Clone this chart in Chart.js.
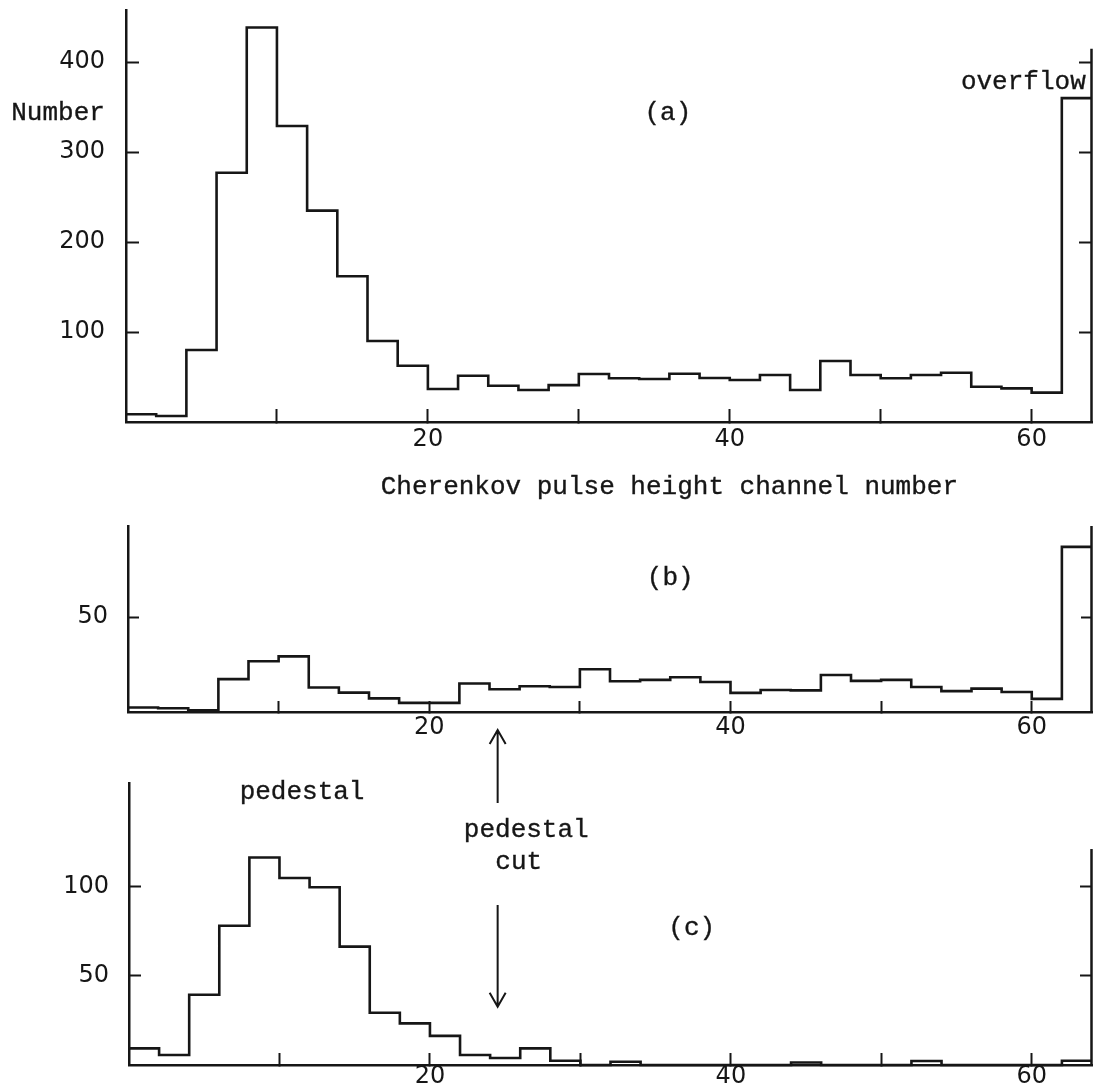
<!DOCTYPE html>
<html>
<head>
<meta charset="utf-8">
<script src="https://cdn.jsdelivr.net/npm/chart.js@4.4.1/dist/chart.umd.min.js"></script>
<style>
  html, body { margin: 0; padding: 0; background: #fff; }
  #wrap { position: relative; width: 1093px; height: 1091px; overflow: hidden; background: #fff; }
  canvas { position: absolute; left: 0; }
</style>
</head>
<body>
<div id="wrap">
  <canvas id="panelA" width="1093" height="505" style="top:0px"></canvas>
  <canvas id="panelB" width="1093" height="240" style="top:505px"></canvas>
  <canvas id="panelC" width="1093" height="391" style="top:700px"></canvas>
</div>
<script>
// Cherenkov pulse height spectra, 2-channel bins from 0 to 64 (last bin = overflow)
const binWidth = 2;

const countsA = [8.6, 6.7, 80, 277, 438.6, 329, 235, 162, 90, 62.6,
                 36.7, 51.4, 40.3, 35.6, 41, 53.3, 48.6, 47.8, 53.7, 48.9,
                 46.7, 52.2, 35.6, 67.8, 52.2, 48.6, 52.2, 54.8, 39.2, 37.4,
                 32.6, 360];
const countsB = [2.4, 2.0, 0.9, 17.3, 26.7, 29.3, 12.9, 10.2, 7.2, 4.8,
                 4.8, 15.0, 12.0, 13.6, 13.2, 22.5, 16.2, 16.9, 18.3, 15.8,
                 10.1, 11.6, 11.4, 19.5, 16.4, 16.9, 13.2, 11.0, 12.3, 10.5,
                 6.9, 87];
const countsC = [9.3, 5.6, 39.4, 78, 116.3, 104.8, 99.6, 66.3, 29.3, 23.3,
                 16.3, 5.6, 3.9, 9.3, 2.4, 0, 1.8, 0, 0, 0,
                 0, 0, 1.4, 0, 0, 0, 2.2, 0, 0, 0,
                 0, 2.4];

const xTicks = [10, 20, 30, 40, 50, 60];
const xTickLabels = ['', '20', '', '40', '', '60'];
const yTicksA = [100, 200, 300, 400];
const yTicksB = [50];
const yTicksC = [50, 100];

// text notes, placed in data units (channel, count)
const notesA = [
  { text: 'Number', x: -4.5, y: 343 },
  { text: '(a)', x: 35.9, y: 343 },
  { text: 'overflow', x: 59.45, y: 378 },
  { text: 'Cherenkov pulse height channel number', x: 36.0, y: -72 }
];
const notesB = [
  { text: '(b)', x: 36.0, y: 70.6 }
];
const notesC = [
  { text: 'pedestal', x: 11.5, y: 152.9 },
  { text: 'pedestal', x: 26.4, y: 131.7 },
  { text: 'cut', x: 25.9, y: 113.7 },
  { text: '(c)', x: 37.4, y: 76.8 }
];
const pedestalCut = 24.5;
const arrowsC = [
  { x: pedestalCut, from: 146.8, to: 187.7 },
  { x: pedestalCut, from: 89.6, to: 32.7 }
];

const ink = '#161616';
const monoFont = '26px "Liberation Mono", "DejaVu Sans Mono", monospace';
const numFont = { family: '"DejaVu Sans", sans-serif', size: 24 };

function stepPoints(counts) {
  const pts = counts.map((c, i) => ({ x: i * binWidth, y: c }));
  pts.push({ x: counts.length * binWidth, y: counts[counts.length - 1] });
  return pts;
}

function notesPlugin(notes, arrows, rightTop) {
  return {
    id: 'notes',
    afterDraw(chart) {
      const ctx = chart.ctx;
      const xs = chart.scales.x, ys = chart.scales.y;
      const area = chart.chartArea;
      ctx.save();
      ctx.strokeStyle = ink;
      ctx.lineCap = 'butt';
      // right-hand axis line
      ctx.lineWidth = 2.5;
      ctx.beginPath();
      ctx.moveTo(area.right - 0.5, ys.getPixelForValue(rightTop));
      ctx.lineTo(area.right - 0.5, ys.getPixelForValue(0) + 1);
      ctx.stroke();

      ctx.fillStyle = ink;
      ctx.font = monoFont;
      ctx.textAlign = 'center';
      ctx.textBaseline = 'middle';
      ctx.lineWidth = 0.35;
      notes.forEach(n => {
        const px = xs.getPixelForValue(n.x), py = ys.getPixelForValue(n.y);
        ctx.fillText(n.text, px, py);
        ctx.strokeText(n.text, px, py);
      });

      ctx.lineWidth = 2;
      arrows.forEach(a => {
        const x = xs.getPixelForValue(a.x);
        const y0 = ys.getPixelForValue(a.from);
        const y1 = ys.getPixelForValue(a.to);
        const dir = y1 < y0 ? 1 : -1;
        ctx.beginPath();
        ctx.moveTo(x, y0);
        ctx.lineTo(x, y1);
        ctx.moveTo(x - 8, y1 + dir * 14);
        ctx.lineTo(x, y1);
        ctx.lineTo(x + 8, y1 + dir * 14);
        ctx.stroke();
      });
      ctx.restore();
    }
  };
}

function noPad(s) {
  s.paddingTop = 0; s.paddingBottom = 0; s.paddingLeft = 0; s.paddingRight = 0;
}

function makePanel(id, counts, cfg) {
  const ctx = document.getElementById(id);
  return new Chart(ctx, {
    type: 'line',
    data: {
      datasets: [{
        data: stepPoints(counts),
        stepped: 'before',
        borderColor: ink,
        borderWidth: 2.6,
        pointRadius: 0,
        fill: false,
        tension: 0,
        clip: false
      }]
    },
    options: {
      responsive: false,
      animation: false,
      devicePixelRatio: 1,
      layout: { padding: { top: cfg.padTop, left: 0, right: 0, bottom: 0 } },
      plugins: { legend: { display: false }, tooltip: { enabled: false } },
      scales: {
        x: {
          type: 'linear',
          min: 0,
          max: 64,
          border: { display: true, color: ink, width: 2.5 },
          grid: { drawOnChartArea: false, drawTicks: true, tickLength: -cfg.tickLen, tickWidth: 2, tickColor: ink },
          ticks: {
            autoSkip: false,
            maxRotation: 0,
            padding: cfg.xLabelPad,
            color: ink,
            font: numFont,
            callback: (v) => xTickLabels[xTicks.indexOf(v)] || ''
          },
          afterBuildTicks: (s) => { s.ticks = xTicks.map(v => ({ value: v })); },
          afterFit: (s) => { s.height = cfg.xHeight; noPad(s); }
        },
        y: {
          position: 'left',
          min: 0,
          max: cfg.yMax,
          border: { display: true, color: ink, width: 2.5 },
          grid: { drawOnChartArea: false, drawTicks: true, tickLength: -cfg.tickLen, tickWidth: 2, tickColor: ink },
          ticks: { autoSkip: false, padding: cfg.yLabelPad, color: ink, font: numFont },
          afterBuildTicks: (s) => { s.ticks = cfg.yTicks.map(v => ({ value: v })); },
          afterFit: (s) => { s.width = cfg.axisLeft; noPad(s); }
        },
        y2: {
          position: 'right',
          min: 0,
          max: cfg.yMax,
          border: { display: false },
          grid: { drawOnChartArea: false, drawTicks: true, tickLength: -cfg.tickLen, tickWidth: 2, tickColor: ink },
          ticks: { display: false },
          afterBuildTicks: (s) => { s.ticks = cfg.yTicks.map(v => ({ value: v })); },
          afterFit: (s) => { s.width = 1; noPad(s); }
        }
      }
    },
    plugins: [notesPlugin(cfg.notes, cfg.arrows, cfg.rightTop)]
  });
}

makePanel('panelA', countsA, {
  yMax: 458, yTicks: yTicksA, padTop: 10, xHeight: 83, axisLeft: 126,
  tickLen: 13, xLabelPad: 16.6, yLabelPad: 34, rightTop: 415,
  notes: notesA, arrows: []
});
makePanel('panelB', countsB, {
  yMax: 98, yTicks: yTicksB, padTop: 21, xHeight: 33, axisLeft: 128,
  tickLen: 11, xLabelPad: 12.6, yLabelPad: 31, rightTop: 98,
  notes: notesB, arrows: []
});
makePanel('panelC', countsC, {
  yMax: 158, yTicks: yTicksC, padTop: 83, xHeight: 26, axisLeft: 129,
  tickLen: 12, xLabelPad: 9.6, yLabelPad: 32, rightTop: 121,
  notes: notesC, arrows: arrowsC
});
</script>
</body>
</html>
